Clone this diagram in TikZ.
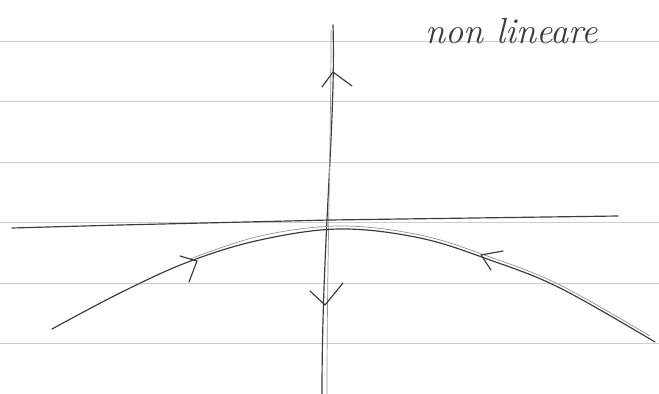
\documentclass[tikz,border=0pt]{standalone}
\usepackage{xcolor}
\usepackage{tikz}

\definecolor{pencil}{HTML}{3C3C3C}
\definecolor{rule}{HTML}{C9CDD2}

\begin{document}
\begin{tikzpicture}[x=.03cm,y=-.03cm,
  ruling/.style={rule,line width=.5pt},
  stroke/.style={pencil,line width=1pt,line cap=round,line join=round},
  ghost/.style={pencil!55,line width=.6pt,line cap=round}]
\useasboundingbox[fill=white] (0,0) rectangle (659,394);
% paper lines
\foreach \y in {41,101.5,162,222,283,343}
  \draw[ruling] (0,\y) -- (659,\y);
% vertical axis, drawn twice
\draw[stroke] (333,25) .. controls (336,120) and (322,240) .. (322,394);
\draw[ghost] (331,30) .. controls (331,140) and (327,260) .. (327,394);
% horizontal line
\draw[stroke] (12,228) -- (120,225) -- (330,220) -- (618,216);
% curve, drawn twice
\draw[stroke] plot[smooth,tension=.6] coordinates
  {(52,329) (120,293) (188,262) (260,240) (340,229) (420,238) (490,260) (560,288) (655,342)};
\draw[ghost] plot[smooth,tension=.6] coordinates
  {(190,259) (260,236) (340,226) (420,235) (490,257) (560,285) (650,336)};
% arrows
\draw[stroke] (322,87) -- (333,72) -- (352,86);
\draw[stroke] (310,291) -- (325,305) -- (343,283);
\draw[stroke] (180,256) -- (197,261) -- (189,282);
\draw[stroke] (503,251) -- (481,255) -- (491,270);
% label
\node[anchor=base west,pencil,inner sep=0pt,font=\fontsize{31}{34}\selectfont\itshape] (lbl) at (425,44) {non lineare};
\end{tikzpicture}
\end{document}
